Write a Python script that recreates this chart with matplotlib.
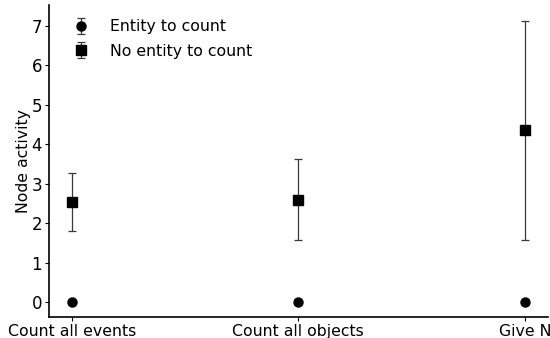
import matplotlib
matplotlib.use("Agg")
import matplotlib.pyplot as plt
import numpy as np

categories = ["Count all events", "Count all objects", "Give N"]
entity_mean = [0.0, 0.0, 0.0]
entity_err = [0.0, 0.0, 0.0]
noentity_mean = [2.53, 2.58, 4.35]
noentity_low = [1.79, 1.57, 1.57]
noentity_high = [3.28, 3.62, 7.12]

fig = plt.figure(figsize=(5.5, 3.38), dpi=100)
ax = fig.add_axes([0.089, 0.062, 0.907, 0.923])
x = np.arange(len(categories))
ne_mean = np.array(noentity_mean)
yerr = [ne_mean - np.array(noentity_low), np.array(noentity_high) - ne_mean]
ax.errorbar(x, entity_mean, yerr=entity_err, fmt='o', color='black', ecolor='#3a3a3a',
            elinewidth=0.9, capsize=3, capthick=0.9, markersize=6.5, label='Entity to count')
ax.errorbar(x, noentity_mean, yerr=yerr, fmt='s', color='black', ecolor='#3a3a3a',
            elinewidth=0.9, capsize=3, capthick=0.9, markersize=6.5, label='No entity to count')
ax.set_xlim(-0.1, 2.1)
ax.set_ylim(-0.38, 7.53)
ax.set_xticks(x)
ax.set_xticklabels(categories, fontsize=11.3)
ax.set_yticks(range(8))
ax.tick_params(axis='both', length=3, width=0.8, pad=2)
ax.tick_params(axis='y', labelsize=12)
ax.set_ylabel("Node activity", fontsize=11.3, labelpad=0)
ax.spines['top'].set_visible(False)
ax.spines['right'].set_visible(False)
for s in ['left', 'bottom']:
    ax.spines[s].set_linewidth(1.2)
ax.legend(loc='upper left', frameon=False, fontsize=11.3, handlelength=1.0,
          handletextpad=1.4, borderaxespad=0.0, labelspacing=0.6,
          bbox_to_anchor=(0.035, 0.975))
fig.savefig("out.png", dpi=100)
